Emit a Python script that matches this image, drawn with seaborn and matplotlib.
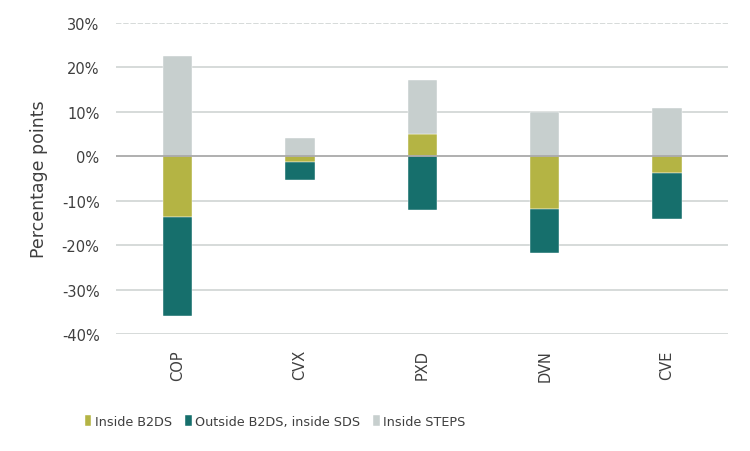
import matplotlib.pyplot as plt
import seaborn as sns
import numpy as np
import pandas as pd
from matplotlib.ticker import FuncFormatter

companies = ['COP', 'CVX', 'PXD', 'DVN', 'CVE']
inside_b2ds = [-13.6, -1.2, 5.1, -11.8, -3.7]
outside_b2ds_inside_sds = [-22.4, -4.2, -12.1, -9.9, -10.5]
inside_steps = [22.6, 4.1, 12.0, 9.9, 10.8]

series_names = ['Inside B2DS', 'Outside B2DS, inside SDS', 'Inside STEPS']
colors = ['#b4b444', '#166f6c', '#c7cfce']

df = pd.DataFrame({
    series_names[0]: inside_b2ds,
    series_names[1]: outside_b2ds_inside_sds,
    series_names[2]: inside_steps,
}, index=companies)

sns.set_theme(style='white')
plt.rcParams['font.family'] = ['DejaVu Sans']
text_col = '#3f3f3f'

fig = plt.figure(figsize=(7.5, 4.52), dpi=100)
ax = fig.add_axes([0.155, 0.259, 0.816, 0.688])

x = np.arange(len(companies))
pos_base = np.zeros(len(companies))
neg_base = np.zeros(len(companies))
for name, col in zip(series_names, colors):
    vals = df[name].values
    bottoms = np.where(vals >= 0, pos_base, neg_base)
    ax.bar(x, vals, width=0.24, bottom=bottoms, color=col, label=name,
           edgecolor='white', linewidth=0.3, zorder=3)
    pos_base = pos_base + np.where(vals >= 0, vals, 0)
    neg_base = neg_base + np.where(vals < 0, vals, 0)

ax.set_xlim(-0.5, len(companies) - 0.5)
ax.set_ylim(-40, 30)
ax.set_yticks(np.arange(-40, 31, 10))
ax.yaxis.set_major_formatter(FuncFormatter(lambda v, p: f'{int(v)}%'))
for v in np.arange(-40, 31, 10):
    if v == 0:
        continue
    ax.axhline(v, color='#d3d8d7', lw=1.3, zorder=1,
               ls=(0, (3, 1)) if v == 30 else '-')
ax.axhline(0, color='#a9a9a9', lw=1.3, zorder=4)

ax.set_xticks(x)
ax.set_xticklabels(companies, rotation=90, fontsize=10.5, color=text_col)
ax.tick_params(axis='y', labelsize=10.5, labelcolor=text_col, length=0, pad=12)
ax.tick_params(axis='x', length=0, pad=11)
ax.set_ylabel('Percentage points', fontsize=12.5, color=text_col, labelpad=10)
sns.despine(ax=ax, left=True, bottom=True)

fig.legend(loc='center left', bbox_to_anchor=(0.098, 0.066), ncol=3, frameon=False,
           fontsize=9.2, handlelength=0.5, handleheight=0.9, handletextpad=0.3,
           columnspacing=1.0, labelcolor=text_col)

fig.savefig('out.png', dpi=100)
